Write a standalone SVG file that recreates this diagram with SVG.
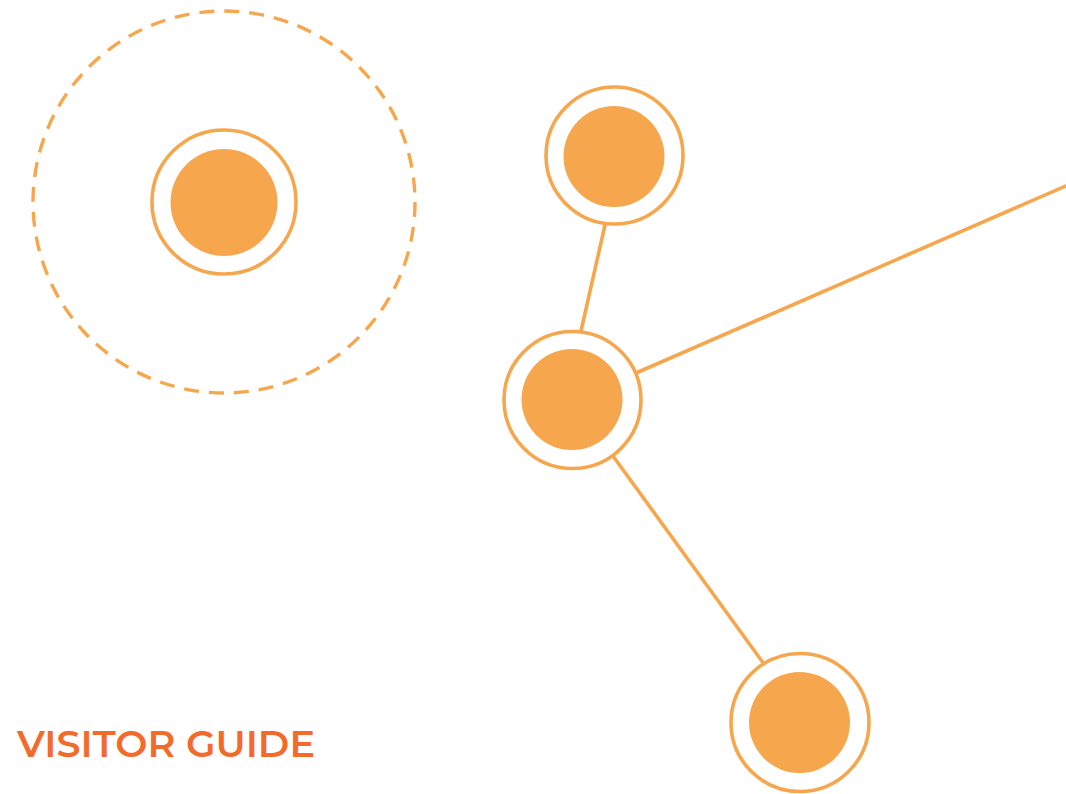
<svg xmlns="http://www.w3.org/2000/svg" width="1066" height="794" viewBox="0 0 1066 794">
<style>
.ring{fill:#fff;stroke:#F6A74D;stroke-width:3.6}
.dot{fill:#F6A74D}
.link{stroke:#F6A74D;stroke-width:3.6;fill:none}
.halo{fill:none;stroke:#F6A74D;stroke-width:3.4;stroke-dasharray:15 10}
.title{font-family:"Montserrat","Liberation Sans",Arial,sans-serif;font-size:37px;font-weight:600;fill:#F26B2A}
</style>
<rect width="1066" height="794" fill="#fff"/>
<g id="connectors">
<line class="link" x1="605" y1="225" x2="581" y2="331"/>
<line class="link" x1="636" y1="373" x2="1068" y2="185"/>
<line class="link" x1="613" y1="456" x2="764" y2="664"/>
</g>
<g id="node-halo">
<circle class="halo" cx="224" cy="202" r="191"/>
<circle class="ring" cx="224" cy="202" r="72"/>
<circle class="dot" cx="224" cy="202.5" r="53.5"/>
</g>
<g id="node-top">
<circle class="ring" cx="614.5" cy="155.5" r="68.5"/>
<circle class="dot" cx="614" cy="156.5" r="50.5"/>
</g>
<g id="node-middle">
<circle class="ring" cx="572.5" cy="400" r="68.5"/>
<circle class="dot" cx="572" cy="399.5" r="50.5"/>
</g>
<g id="node-bottom">
<circle class="ring" cx="800" cy="722.5" r="69"/>
<circle class="dot" cx="799.5" cy="722.5" r="50.5"/>
</g>
<g id="title">
<text class="title" x="17" y="757" textLength="298" lengthAdjust="spacingAndGlyphs">VISITOR GUIDE</text>
</g>
</svg>
